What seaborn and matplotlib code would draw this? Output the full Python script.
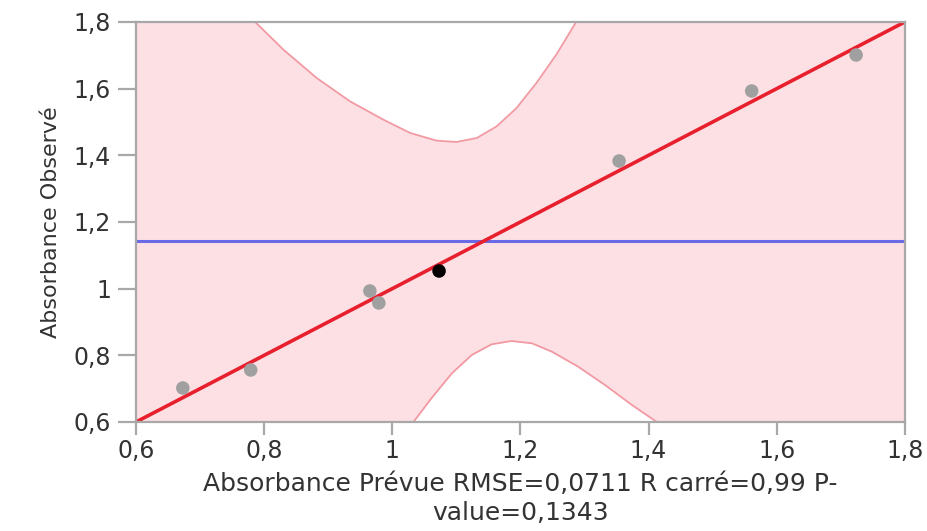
import numpy as np
import pandas as pd
import matplotlib
matplotlib.use("Agg")
import matplotlib.pyplot as plt
import seaborn as sns

predicted = [0.673, 0.779, 0.965, 0.979, 1.073, 1.354, 1.561, 1.724]
observed = [0.702, 0.756, 0.993, 0.957, 1.053, 1.383, 1.593, 1.701]
point_kind = ["gris", "gris", "gris", "gris", "noir", "gris", "gris", "gris"]

# confidence curves
upper_x = [0.600, 0.786, 0.830, 0.882, 0.934, 0.986, 1.028, 1.069, 1.100,
           1.132, 1.163, 1.194, 1.225, 1.256, 1.287, 1.800]
upper_y = [1.800, 1.800, 1.717, 1.632, 1.562, 1.507, 1.467, 1.444, 1.440,
           1.452, 1.487, 1.542, 1.617, 1.702, 1.800, 1.800]
lower_x = [0.600, 1.033, 1.061, 1.093, 1.124, 1.155, 1.186, 1.218, 1.249,
           1.290, 1.332, 1.374, 1.413, 1.800]
lower_y = [0.600, 0.600, 0.671, 0.746, 0.801, 0.833, 0.843, 0.836, 0.811,
           0.766, 0.711, 0.651, 0.600, 0.600]

ticks = [0.6, 0.8, 1.0, 1.2, 1.4, 1.6, 1.8]
tick_labels = ["0,6", "0,8", "1", "1,2", "1,4", "1,6", "1,8"]

df = pd.DataFrame({"Prévue": predicted, "Observé": observed, "kind": point_kind})

sns.set_style("white")
plt.rcParams['font.family'] = ['DejaVu Sans']

fig = plt.figure(figsize=(9.28, 5.31), dpi=100)
ax = fig.add_axes([0.1466, 0.2053, 0.8284, 0.7533])

# pink band, white outside the curves
ax.set_facecolor("#fde0e4")
ax.fill_between(upper_x, upper_y, 1.8, color="white", lw=0, zorder=1)
ax.fill_between(lower_x, 0.6, lower_y, color="white", lw=0, zorder=1)
sns.lineplot(x=upper_x, y=upper_y, sort=False, color="#f29aa3", lw=1.3, ax=ax, zorder=2)
sns.lineplot(x=lower_x, y=lower_y, sort=False, color="#f29aa3", lw=1.3, ax=ax, zorder=2)

# mean line and fit line
ax.axhline(np.mean(observed), color="#6a6ae6", lw=2.2, zorder=3)
ax.axline((0, 0), slope=1, color="#e8202e", lw=2.6, zorder=4)

sns.scatterplot(data=df, x="Prévue", y="Observé", hue="kind",
                palette={"gris": "#a0a0a0", "noir": "black"},
                s=95, linewidth=0, legend=False, ax=ax, zorder=5)

ax.set_xlim(0.6, 1.8)
ax.set_ylim(0.6, 1.8)
ax.set_xticks(ticks)
ax.set_xticklabels(tick_labels)
ax.set_yticks(ticks)
ax.set_yticklabels(tick_labels)

for side in ["left", "bottom", "top", "right"]:
    ax.spines[side].set_color("#a8a8a8")
    ax.spines[side].set_linewidth(1.6)
    ax.spines[side].set_zorder(6)

ax.tick_params(axis="x", length=9, width=1.6, color="#a8a8a8", labelsize=17,
               labelcolor="#333333", pad=3, direction="out", bottom=True)
ax.tick_params(axis="y", length=13, width=1.6, color="#a8a8a8", labelsize=17,
               labelcolor="#333333", pad=5, direction="out", left=True)

ax.set_xlabel("Absorbance Prévue RMSE=0,0711 R carré=0,99 P-\nvalue=0,1343",
              fontsize=18, color="#333333", labelpad=7, linespacing=1.25)
ax.set_ylabel("Absorbance Observé", fontsize=16, color="#333333",
              family=["DejaVu Sans Condensed", "DejaVu Sans"], labelpad=9)

fig.savefig("out.png", dpi=100)
